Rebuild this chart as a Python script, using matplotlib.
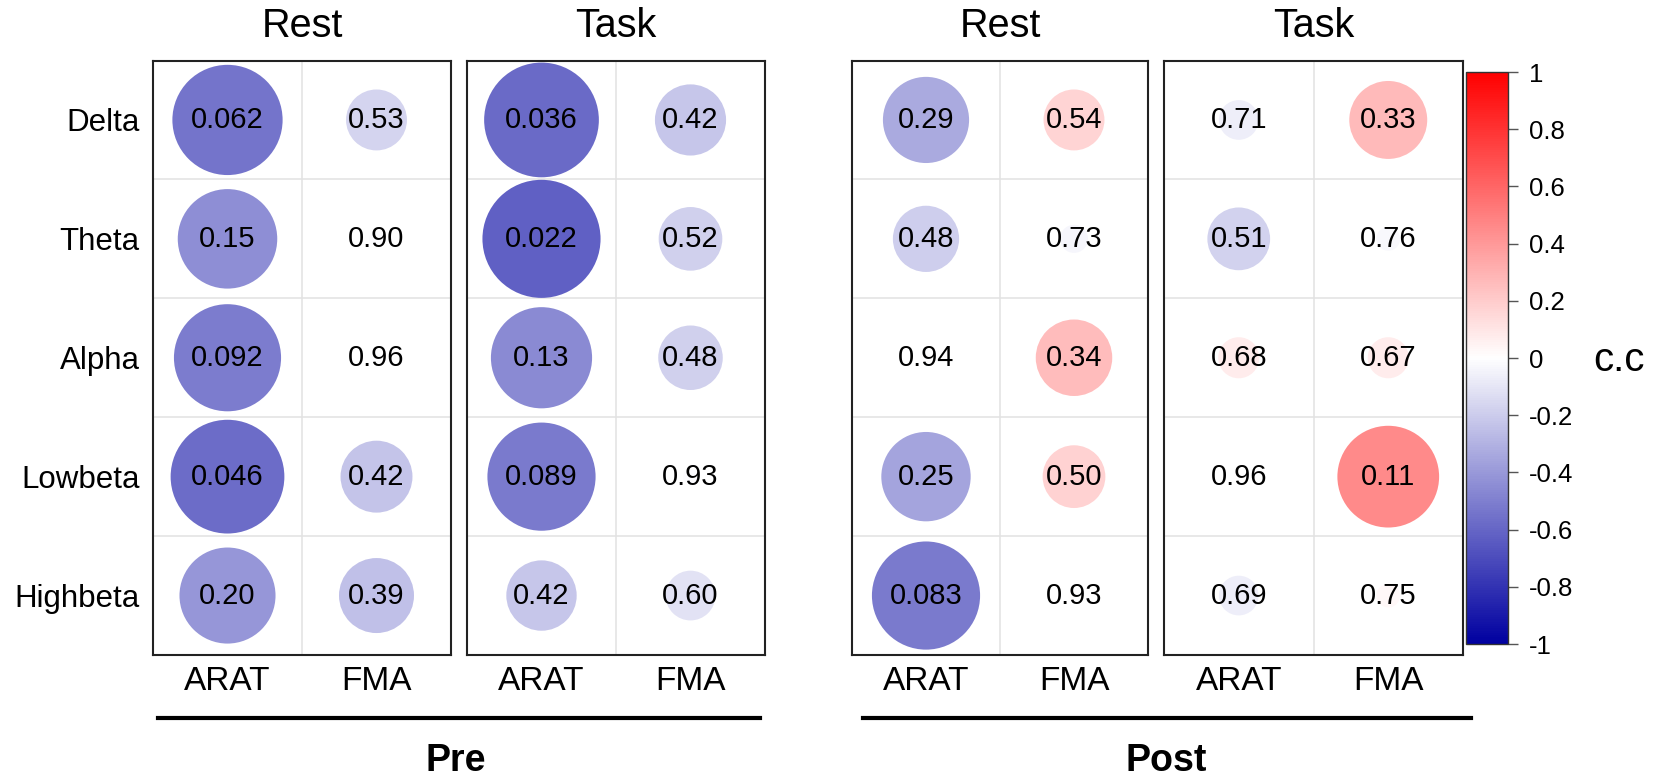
import matplotlib
matplotlib.use("Agg")
import matplotlib.pyplot as plt
import numpy as np
from matplotlib.colors import LinearSegmentedColormap

plt.rcParams['font.family'] = ['Liberation Sans', 'DejaVu Sans']

# ---------------- data ----------------
bands = ['Delta', 'Theta', 'Alpha', 'Lowbeta', 'Highbeta']
scales = ['ARAT', 'FMA']
conditions = ['Rest', 'Task']
phases = ['Pre', 'Post']

# correlation coefficients (rows = bands, cols = ARAT, FMA)
pre_rest_r = [[-0.54, -0.165], [-0.44, -0.01], [-0.51, -0.005], [-0.575, -0.23], [-0.41, -0.25]]
pre_task_r = [[-0.585, -0.225], [-0.62, -0.18], [-0.455, -0.185], [-0.52, -0.01], [-0.22, -0.11]]
post_rest_r = [[-0.33, 0.165], [-0.195, -0.035], [0.005, 0.26], [-0.355, 0.175], [-0.52, 0.005]]
post_task_r = [[-0.07, 0.27], [-0.175, -0.025], [0.075, 0.075], [0.005, 0.46], [-0.07, 0.025]]

# p-values shown in the cells
pre_rest_p = [['0.062', '0.53'], ['0.15', '0.90'], ['0.092', '0.96'], ['0.046', '0.42'], ['0.20', '0.39']]
pre_task_p = [['0.036', '0.42'], ['0.022', '0.52'], ['0.13', '0.48'], ['0.089', '0.93'], ['0.42', '0.60']]
post_rest_p = [['0.29', '0.54'], ['0.48', '0.73'], ['0.94', '0.34'], ['0.25', '0.50'], ['0.083', '0.93']]
post_task_p = [['0.71', '0.33'], ['0.51', '0.76'], ['0.68', '0.67'], ['0.96', '0.11'], ['0.69', '0.75']]

cbar_ticks = [1, 0.8, 0.6, 0.4, 0.2, 0, -0.2, -0.4, -0.6, -0.8, -1]
cbar_labels = ['1', '0.8', '0.6', '0.4', '0.2', '0', '-0.2', '-0.4', '-0.6', '-0.8', '-1']

# ---------------- figure ----------------
W, H = 1654, 777
DPI = 100
fig = plt.figure(figsize=(W / DPI, H / DPI), dpi=DPI)

def fx(px):
    return px / W

def fy(py):
    return (H - py) / H

cmap = LinearSegmentedColormap.from_list('bwr_cc', ['#0000A0', '#FFFFFF', '#FF0000'], N=256)

panel_x = [(153, 451), (467, 765), (852, 1148), (1164, 1463)]
top_px, bot_px = 60.5, 655
panel_r = [pre_rest_r, pre_task_r, post_rest_r, post_task_r]
panel_p = [pre_rest_p, pre_task_p, post_rest_p, post_task_p]
panel_title = [conditions[0], conditions[1], conditions[0], conditions[1]]

size_k = (0.72 * 150) ** 2  # marker area (pt^2) at |r| = 1

sc = None
for i, (x0, x1) in enumerate(panel_x):
    ax = fig.add_axes([fx(x0), fy(bot_px), fx(x1) - fx(x0), fy(top_px) - fy(bot_px)])
    r = np.array(panel_r[i])
    p = panel_p[i]
    ax.set_xlim(0, 2)
    ax.set_ylim(5, 0)
    # grid
    ax.axvline(1, color='#E2E2E2', lw=1.1, zorder=0)
    for k in range(1, 5):
        ax.axhline(k, color='#E2E2E2', lw=1.1, zorder=0)
    xx, yy = np.meshgrid(np.arange(2) + 0.5, np.arange(5) + 0.5)
    sc = ax.scatter(xx.ravel(), yy.ravel(), s=size_k * np.abs(r.ravel()), c=r.ravel(),
                    cmap=cmap, vmin=-1, vmax=1, edgecolors='none', zorder=2)
    for row in range(5):
        for col in range(2):
            ax.text(col + 0.5, row + 0.5, p[row][col], ha='center', va='center',
                    fontsize=21, color='black', zorder=3)
    ax.set_xticks([0.5, 1.5])
    ax.set_xticklabels(scales, fontsize=24)
    ax.tick_params(axis='x', length=0, pad=8)
    if i == 0:
        ax.set_yticks(np.arange(5) + 0.5)
        ax.set_yticklabels(bands, fontsize=22.5)
        ax.tick_params(axis='y', length=0, pad=9.5)
    else:
        ax.set_yticks([])
    for s in ax.spines.values():
        s.set_linewidth(1.5)
        s.set_color('#222222')
    ax.set_title(panel_title[i], fontsize=28.5, pad=17)

# colorbar
cax = fig.add_axes([fx(1466), fy(644), fx(1508) - fx(1466), fy(72) - fy(644)])
cb = fig.colorbar(sc, cax=cax, ticks=cbar_ticks)
cb.ax.set_yticklabels(cbar_labels, fontsize=18.5)
cb.ax.tick_params(length=7, width=1, color='#555555', pad=8)
cb.outline.set_linewidth(1.0)
cb.outline.set_edgecolor('#333333')
fig.text(fx(1593), fy(371), 'c.c', fontsize=29, ha='left', va='baseline')

# brackets and phase labels
for (xa, xb, xc, label) in [(158, 760, 456, phases[0]), (863, 1471, 1166, phases[1])]:
    fig.add_artist(plt.Line2D([fx(xa), fx(xb)], [fy(718), fy(718)], color='black', lw=3.0,
                              transform=fig.transFigure))
    fig.text(fx(xc), fy(771), label, fontsize=27, fontweight='bold', ha='center', va='baseline')

fig.savefig('out.png', dpi=DPI)
